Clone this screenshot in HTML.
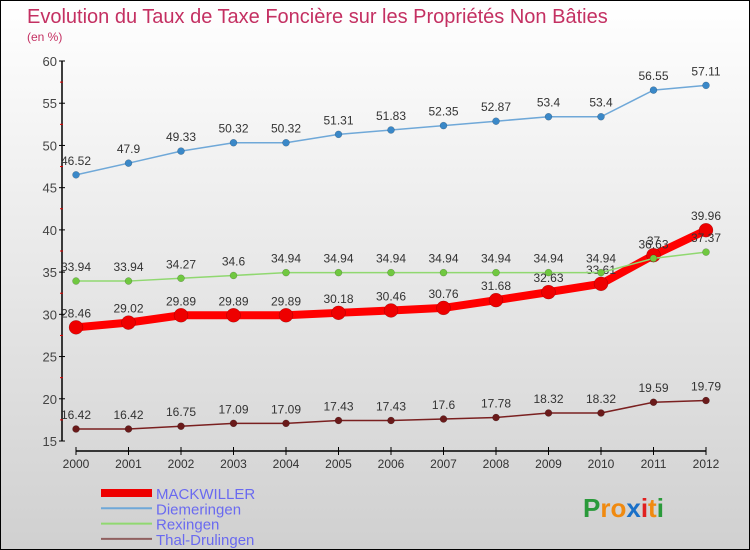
<!DOCTYPE html>
<html><head><meta charset="utf-8"><style>
body{margin:0;}
#wrap{position:relative;width:748px;height:548px;border:1px solid #000;background:linear-gradient(#ffffff,#d0d0d0);font-family:"Liberation Sans",sans-serif;overflow:hidden;}
</style></head><body>
<div id="wrap">
<svg id="chart" width="748" height="548" xmlns="http://www.w3.org/2000/svg">
<text x="26" y="22" font-size="20" fill="#c43062">Evolution du Taux de Taxe Foncière sur les Propriétés Non Bâties</text>
<text x="26" y="40" font-size="12" fill="#c43062">(en %)</text>
<g id="axes"></g><g id="series"></g><g id="legend"></g>
<g font-size="26" font-weight="bold">
<text x="582" y="516"><tspan fill="#2a9a3a">P</tspan><tspan fill="#f08a10">ro</tspan><tspan fill="#1a70c8">x</tspan><tspan fill="#e02020">i</tspan><tspan fill="#f08a10">t</tspan><tspan fill="#2a9a3a">i</tspan></text>
</g>
</svg>
</div>
<script>
const years=[2000,2001,2002,2003,2004,2005,2006,2007,2008,2009,2010,2011,2012];
const mackwiller=[28.46,29.02,29.89,29.89,29.89,30.18,30.46,30.76,31.68,32.63,33.61,37,39.96];
const diemeringen=[46.52,47.9,49.33,50.32,50.32,51.31,51.83,52.35,52.87,53.4,53.4,56.55,57.11];
const rexingen=[33.94,33.94,34.27,34.6,34.94,34.94,34.94,34.94,34.94,34.94,34.94,36.63,37.37];
const thal=[16.42,16.42,16.75,17.09,17.09,17.43,17.43,17.6,17.78,18.32,18.32,19.59,19.79];
const yTicks=[15,20,25,30,35,40,45,50,55,60];
const NS="http://www.w3.org/2000/svg";
function X(i){return 75+i*52.5;}
function Y(v){return 440-(v-15)*(380/45);}
function mk(t,a,p){const e=document.createElementNS(NS,t);for(const k in a)e.setAttribute(k,a[k]);p.appendChild(e);return e;}
const ax=document.getElementById('axes');
const yl=mk('line',{x1:61,y1:Y(60),x2:61,y2:Y(15),stroke:'#000','stroke-width':1.5},ax);


const xl=mk('line',{x1:75,y1:450,x2:X(12),y2:450,stroke:'#000','stroke-width':1.5},ax);


yTicks.forEach(v=>{
 mk('line',{x1:58,y1:Y(v),x2:64,y2:Y(v),stroke:'#000'},ax);
 if(v<60) mk('line',{x1:59,y1:Y(v+2.5),x2:62,y2:Y(v+2.5),stroke:'#e00000'},ax);
 const t=mk('text',{x:56,y:Y(v)+5,'font-size':13,fill:'#444','text-anchor':'end'},ax);
 t.textContent=v;
 
 
});
years.forEach((yr,i)=>{
 mk('line',{x1:X(i),y1:446,x2:X(i),y2:454,stroke:'#000'},ax);
 const t=mk('text',{x:X(i),y:467,'font-size':12,fill:'#333','text-anchor':'middle'},ax);
 t.textContent=yr;
 
 
});
const sg=document.getElementById('series');
function series(vals,color,lw,r,dot,name){
 const g=mk('g',{},sg);
 
 
 mk('polyline',{points:vals.map((v,i)=>X(i)+','+Y(v)).join(' '),fill:'none',stroke:color,'stroke-width':lw,'stroke-linejoin':'round'},g);
 vals.forEach((v,i)=>{
  const c=mk('circle',{cx:X(i),cy:Y(v),r:r,fill:dot,stroke:'rgba(0,0,0,0.3)','stroke-width':0.5},g);
  
  
  const t=mk('text',{x:X(i),y:Y(v)-10,'font-size':12,fill:'#333','text-anchor':'middle'},g);
  t.textContent=v;
  
  
 });
}
series(diemeringen,'#6fa8d8',1.5,3.5,'#3a88c8','diemeringen-series');
series(thal,'#7a2020',1.5,3.5,'#6a1a1a','thal-drulingen-series');
series(mackwiller,'#ff0000',8,7,'#ee0000','mackwiller-series');
series(rexingen,'#90d870',1.5,3.5,'#70c840','rexingen-series');
const lg=document.getElementById('legend');
const items=[['MACKWILLER','#ee0000',8],['Diemeringen','#6fa8d8',2],['Rexingen','#90d870',2],['Thal-Drulingen','#906060',2]];
items.forEach((it,k)=>{
 const y=492+k*15.3;
 const g=mk('g',{},lg);
 
 
 mk('line',{x1:100,y1:y,x2:151,y2:y,stroke:it[1],'stroke-width':it[2]},g);
 const t=mk('text',{x:155,y:y+6,'font-size':15,fill:'#6a6af0'},g);
 t.textContent=it[0];
});
</script>
</body></html>
